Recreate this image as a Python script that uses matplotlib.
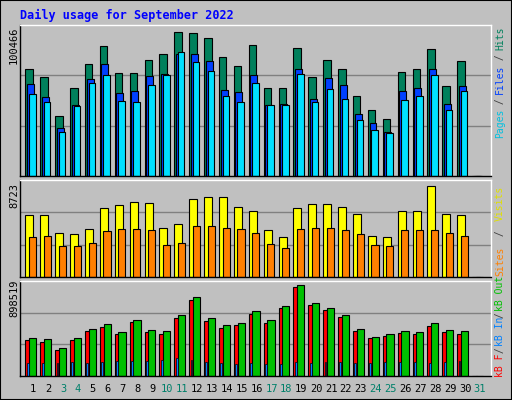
import matplotlib
matplotlib.use("Agg")
import matplotlib.pyplot as plt
import numpy as np

days = list(range(1, 32))
weekend = [3, 4, 10, 11, 17, 18, 24, 25, 31]
hits = [73100, 67700, 40800, 60300, 76500, 89300, 70400, 70400, 79800, 83900, 98700, 98000, 94600, 81200, 75100,
        89900, 60300, 60300, 87900, 67700, 79800, 73100, 54900, 45500, 38800, 71100, 73100, 87200, 61700, 78500, 0]
files = [63000, 54300, 32700, 48900, 66400, 76500, 57000, 58300, 68400, 69700, 83900, 83900, 78500, 59000, 57600,
         69100, 48900, 49600, 73100, 52900, 67100, 62300, 42800, 36100, 30100, 58300, 60300, 73100, 49600, 61700, 0]
pages = [56300, 50900, 30100, 48200, 63700, 69100, 51600, 50900, 62300, 69100, 84600, 77800, 71800, 54900, 50900,
         63700, 48900, 48900, 69800, 50900, 59700, 52900, 38100, 31400, 29400, 52300, 54900, 69100, 45500, 58300, 0]
visits = [5780, 5780, 4130, 4040, 4500, 6430, 6700, 6980, 6890, 4590, 4960, 7250, 7440, 7440, 6520, 6150, 4410,
          3760, 6430, 6790, 6790, 6520, 5880, 3860, 3760, 6150, 6150, 8450, 5880, 5780, 0]
sites = [3760, 3860, 2850, 2850, 3210, 4310, 4500, 4500, 4410, 2940, 3120, 4770, 4770, 4590, 4500, 4130, 3030,
         2660, 4500, 4590, 4590, 4410, 4040, 2940, 2850, 4410, 4410, 4410, 4130, 3860, 0]
kb_f = [340500, 321600, 245900, 340500, 425700, 463500, 397300, 510800, 416200, 397300, 548600, 718900, 520200,
        454000, 482400, 586500, 501300, 643200, 841900, 671600, 624300, 558100, 425700, 359400, 378400, 406700,
        397300, 473000, 416200, 397300, 0]
kb_in = [123000, 123000, 123000, 132400, 123000, 132400, 141900, 141900, 141900, 151300, 170300, 151300, 132400,
         123000, 113500, 123000, 113500, 113500, 132400, 123000, 132400, 132400, 123000, 123000, 132400, 132400,
         132400, 123000, 132400, 141900, 0]
kb_out = [359400, 350000, 264900, 359400, 444600, 491900, 416200, 529700, 435100, 425700, 577000, 747300, 548600,
          482400, 501300, 614800, 529700, 662100, 860800, 690500, 643200, 577000, 444600, 368900, 397300, 425700,
          416200, 501300, 435100, 425700, 0]
max_hits = 100466
max_visits = 8723
max_kb = 898519

W, H = 512, 400
fig = plt.figure(figsize=(W / 100, H / 100), dpi=100, facecolor="#C0C0C0")
mono = "DejaVu Sans Mono"
x = np.array(days, dtype=float)

def mkax(top, bottom):
    ax = fig.add_axes([20 / W, 1 - bottom / H, 471 / W, (bottom - top) / H])
    ax.set_facecolor("#C0C0C0")
    ax.set_xlim(0.107, 31.74)
    ax.set_xticks([]); ax.set_yticks([])
    for s in ax.spines.values():
        s.set_color("black"); s.set_linewidth(1)
    ax.spines["top"].set_color("white"); ax.spines["right"].set_color("white")
    return ax

ec = dict(edgecolor="black", linewidth=0.8, align="edge")

ax1 = mkax(25, 176)
ymax1 = max_hits * 453 / 440
ax1.set_ylim(0, ymax1)
for g in (1 / 3, 2 / 3):
    ax1.axhline(ymax1 * g, color="#808080", lw=1, zorder=0)
ax1.bar(x - 0.53, hits, 0.50, color="#00805C", **ec)
ax1.bar(x - 0.42, files, 0.47, color="#0040FF", **ec)
ax1.bar(x - 0.29, pages, 0.44, color="#00E0FF", **ec)

ax2 = mkax(180, 277)
ymax2 = 8723 * 1.035
ax2.set_ylim(0, ymax2)
for g in (1 / 3, 2 / 3):
    ax2.axhline(ymax2 * g, color="#808080", lw=1, zorder=0)
ax2.bar(x - 0.53, visits, 0.54, color="#FFFF00", **ec)
ax2.bar(x - 0.29, sites, 0.48, color="#FF8000", **ec)

ax3 = mkax(281, 376)
ymax3 = max_kb
ax3.set_ylim(0, ymax3)
for g in (1 / 3, 2 / 3):
    ax3.axhline(ymax3 * g, color="#808080", lw=1, zorder=0)
ax3.bar(x - 0.53, kb_f, 0.34, color="#FF0000", **ec)
ax3.bar(x - 0.28, kb_out, 0.48, color="#00C000", **ec)
ax3.bar(x - 0.44, kb_in, 0.13, color="#0080FF", edgecolor="black", linewidth=0.5, align="edge")

fig.text(20 / W, 1 - 15 / H, "Daily usage for September 2022", family=mono, weight="bold",
         color="#0000FF", fontsize=8.5, va="center")
for lbl, yc in ((str(max_hits), 45), (str(max_visits), 195), (str(max_kb), 298)):
    fig.text(14 / W, 1 - yc / H, lbl, family=mono, fontsize=7.5, rotation=90, ha="center", va="center")

for d in days:
    xp = 20 + (d - 0.107) / (31.74 - 0.107) * 471
    fig.text(xp / W, 1 - 389 / H, str(d), family=mono, fontsize=7.5, ha="center", va="center",
             color="#00806A" if d in weekend else "black")

def right_label(parts, ybottom, ytop):
    total = sum(len(t) for t, _ in parts)
    cw = (ybottom - ytop) / total
    y = ybottom
    for txt, col in parts:
        fig.text(500 / W, 1 - y / H, txt, family=mono, fontsize=7, rotation=90, ha="center", va="bottom",
                 color=col)
        y -= cw * len(txt)

right_label([("Pages", "#00C0E0"), (" / ", "#404040"), ("Files", "#0040FF"), (" / ", "#404040"),
             ("Hits", "#00805C")], 138, 28)
right_label([("Sites", "#FF8000"), (" / ", "#404040"), ("Visits", "#E0E000")], 276, 180)
right_label([("kB F", "#FF0000"), (" / ", "#404040"), ("kB In", "#0080FF"), (" / ", "#404040"),
             ("kB Out", "#00C000")], 377, 284)

fr = fig.add_axes([0, 0, 1, 1], facecolor="none")
fr.set_xticks([]); fr.set_yticks([])
for s in fr.spines.values():
    s.set_color("black"); s.set_linewidth(1.5)
fr.set_zorder(-1)

fig.savefig("out.png", dpi=100, facecolor=fig.get_facecolor())
